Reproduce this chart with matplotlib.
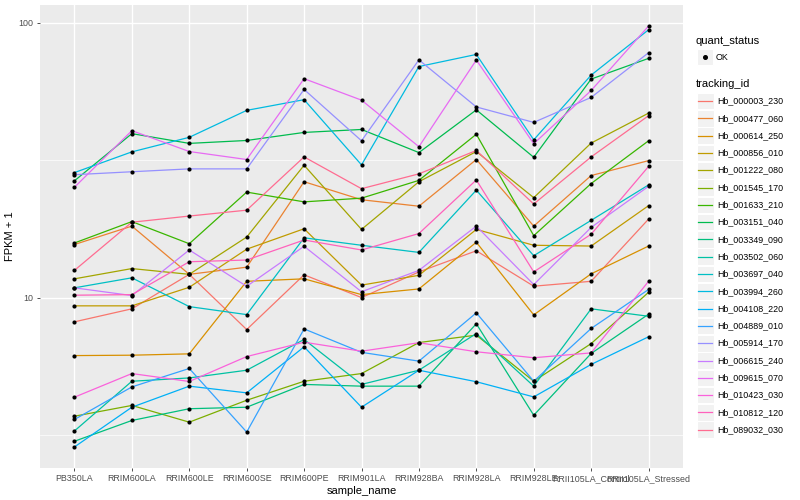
import numpy as np
import matplotlib
matplotlib.use('Agg')
import matplotlib.pyplot as plt
from matplotlib.lines import Line2D
from matplotlib.patches import Rectangle

plt.rcParams['font.family'] = ['Liberation Sans', 'DejaVu Sans']

samples = ['PB350LA', 'RRIM600LA', 'RRIM600LE', 'RRIM600SE', 'RRIM600PE', 'RRIM901LA',
           'RRIM928BA', 'RRIM928LA', 'RRIM928LE', 'RRII105LA_Control', 'RRII105LA_Stressed']

tracking_ids = ['Hb_000003_230', 'Hb_000477_060', 'Hb_000614_250', 'Hb_000856_010',
                'Hb_001222_080', 'Hb_001545_170', 'Hb_001633_210', 'Hb_003151_040',
                'Hb_003349_090', 'Hb_003502_060', 'Hb_003697_040', 'Hb_003994_260',
                'Hb_004108_220', 'Hb_004889_010', 'Hb_005914_170', 'Hb_006615_240',
                'Hb_009615_070', 'Hb_010423_030', 'Hb_010812_120', 'Hb_089032_030']

# ggplot hue palette for 20 levels
colors = ['#F8766D', '#EA8331', '#D89000', '#C09B00', '#A3A500', '#7CAE00', '#39B600',
          '#00BB4E', '#00BF7D', '#00C1A3', '#00BFC4', '#00BAE0', '#00B0F6', '#35A2FF',
          '#9590FF', '#C77CFF', '#E76BF3', '#FA62DB', '#FF62BC', '#FF6C91']

# FPKM + 1 per sample
hb_000003_230 = [8.16, 9.1, 12.15, 7.65, 12.1, 10.0, 12.4, 14.8, 11.0, 11.46, 19.3]
hb_000477_060 = [15.6, 18.2, 12.15, 12.9, 26.4, 22.7, 21.5, 31.8, 18.2, 27.8, 31.5]
hb_000614_250 = [6.15, 6.17, 6.24, 11.46, 11.7, 10.25, 10.75, 15.9, 8.65, 12.2, 15.4]
hb_000856_010 = [9.33, 9.33, 10.9, 15.0, 17.8, 11.1, 12.05, 17.7, 15.5, 15.4, 21.6]
hb_001222_080 = [11.7, 12.75, 12.15, 16.6, 30.3, 17.7, 26.4, 34.0, 23.1, 36.5, 46.9]
hb_001545_170 = [3.7, 4.05, 3.52, 4.23, 4.96, 5.29, 6.86, 7.3, 4.96, 6.8, 10.45]
hb_001633_210 = [15.8, 18.9, 15.7, 24.2, 22.3, 23.0, 26.7, 39.3, 16.8, 26.0, 37.2]
hb_003151_040 = [26.6, 39.5, 36.4, 37.3, 39.9, 40.9, 33.7, 48.2, 32.4, 62.4, 74.2]
hb_003349_090 = [3.0, 3.57, 3.94, 3.99, 4.83, 4.76, 4.76, 8.03, 3.73, 6.26, 8.7]
hb_003502_060 = [3.27, 4.96, 5.1, 5.44, 7.04, 4.83, 5.44, 7.4, 4.76, 9.1, 8.55]
hb_003697_040 = [10.85, 11.8, 9.27, 8.67, 16.5, 15.5, 14.6, 24.6, 14.2, 19.1, 25.7]
hb_003994_260 = [28.5, 33.9, 38.3, 48.0, 52.5, 30.4, 69.3, 76.7, 37.5, 64.5, 94.3]
hb_004108_220 = [2.86, 3.99, 4.76, 4.5, 6.62, 3.99, 5.44, 4.94, 4.35, 5.71, 7.2]
hb_004889_010 = [3.6, 4.73, 5.52, 3.24, 7.69, 6.32, 5.87, 8.8, 4.96, 7.72, 10.7]
hb_005914_170 = [28.0, 28.7, 29.4, 29.4, 57.2, 37.2, 73.3, 49.4, 43.4, 53.5, 77.8]
hb_006615_240 = [10.85, 10.17, 14.9, 10.99, 15.37, 10.5, 12.56, 18.2, 11.15, 18.0, 25.4]
hb_009615_070 = [25.2, 40.5, 34.0, 31.8, 62.6, 52.3, 35.4, 73.2, 36.3, 56.7, 97.3]
hb_010423_030 = [4.34, 5.29, 4.95, 6.1, 6.88, 6.38, 6.85, 6.35, 6.04, 6.29, 11.46]
hb_010812_120 = [10.2, 10.25, 13.5, 13.7, 16.2, 14.9, 17.1, 26.8, 12.4, 17.0, 30.0]
hb_089032_030 = [12.56, 18.8, 19.8, 20.8, 32.5, 24.9, 28.2, 34.3, 21.9, 32.5, 45.9]

series = [hb_000003_230, hb_000477_060, hb_000614_250, hb_000856_010, hb_001222_080,
          hb_001545_170, hb_001633_210, hb_003151_040, hb_003349_090, hb_003502_060,
          hb_003697_040, hb_003994_260, hb_004108_220, hb_004889_010, hb_005914_170,
          hb_006615_240, hb_009615_070, hb_010423_030, hb_010812_120, hb_089032_030]

fig = plt.figure(figsize=(8, 5), dpi=100)
ax = fig.add_axes([40 / 800, 1 - 468 / 500, 643 / 800, 463 / 500])
ax.set_facecolor('#EBEBEB')

x = np.arange(len(samples))
for vals, col in zip(series, colors):
    ax.plot(x, vals, color=col, linewidth=0.9, zorder=2)
for vals in series:
    ax.scatter(x, vals, color='black', s=9, zorder=3, linewidths=0)

ax.set_yscale('log')
allv = np.log10(np.concatenate([np.array(s) for s in series]))
lo, hi = allv.min(), allv.max()
pad = (hi - lo) * 0.05
ax.set_ylim(10 ** (lo - pad), 10 ** (hi + pad))
ax.set_xlim(-0.6, len(samples) - 0.4)

ax.set_yticks([10, 100])
ax.set_yticklabels(['10', '100'])
ax.set_yticks([10 ** 0.5, 10 ** 1.5], minor=True)
ax.yaxis.set_minor_formatter(matplotlib.ticker.NullFormatter())
ax.set_xticks(x)
ax.set_xticklabels(samples)

ax.grid(True, which='major', color='white', linewidth=1.0, zorder=0)
ax.grid(True, which='minor', axis='y', color='white', linewidth=0.5, zorder=0)
ax.set_axisbelow(True)
for sp in ax.spines.values():
    sp.set_visible(False)
ax.tick_params(axis='both', which='major', length=2.5, width=0.6, color='#333333',
               labelsize=6.4, labelcolor='#4D4D4D', pad=2)
ax.tick_params(axis='y', which='minor', length=0)

ax.set_xlabel('sample_name', fontsize=8, labelpad=2)
ax.set_ylabel('FPKM + 1', fontsize=8, labelpad=3)


def fx(px):
    return px / 800


def fy(py):
    return 1 - py / 500


# legend: quant_status
fig.text(fx(696), fy(41), 'quant_status', fontsize=8, va='center', ha='left')
fig.patches.append(Rectangle((fx(697), fy(65)), 16 / 800, 16 / 500, transform=fig.transFigure,
                             facecolor='#F2F2F2', edgecolor='white', linewidth=0.8))
fig.lines.append(Line2D([fx(705)], [fy(57)], transform=fig.transFigure, marker='o',
                        color='black', markersize=2.6, linestyle='none'))
fig.text(fx(716), fy(57), 'OK', fontsize=6.4, va='center', ha='left')

# legend: tracking_id
fig.text(fx(696), fy(84), 'tracking_id', fontsize=8, va='center', ha='left')
step = 17.3
for i, (tid, col) in enumerate(zip(tracking_ids, colors)):
    cy = 101 + i * step
    fig.patches.append(Rectangle((fx(697), fy(cy + 8.3)), 16.6 / 800, 16.6 / 500,
                                 transform=fig.transFigure, facecolor='#F2F2F2',
                                 edgecolor='white', linewidth=0.8))
    fig.lines.append(Line2D([fx(698), fx(712)], [fy(cy), fy(cy)], transform=fig.transFigure,
                            color=col, linewidth=0.9))
    fig.text(fx(717), fy(cy), tid, fontsize=6.4, va='center', ha='left')

fig.savefig('out.png', dpi=100)
